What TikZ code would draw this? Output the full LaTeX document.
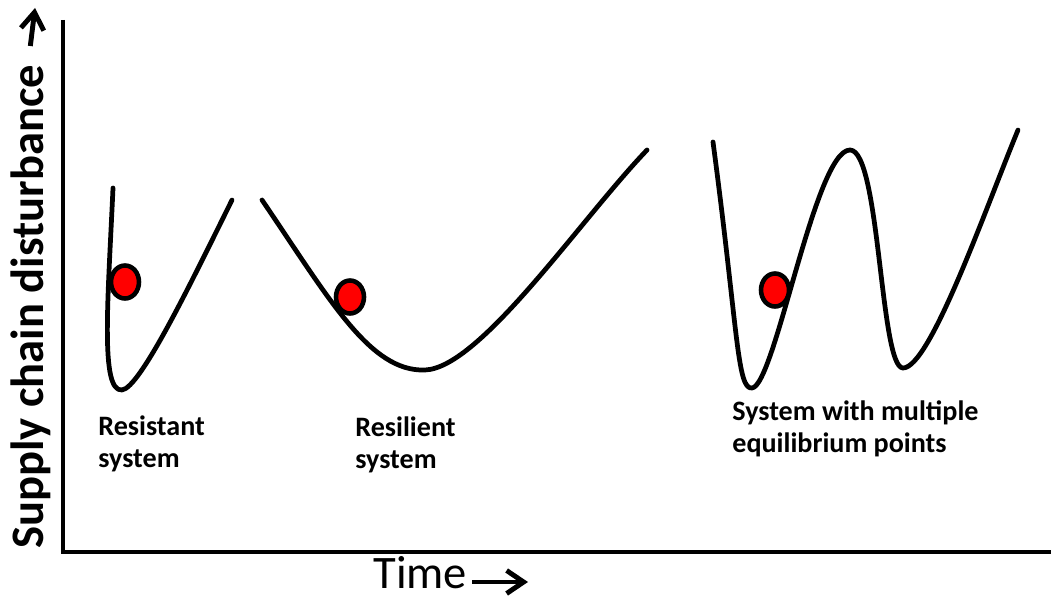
\documentclass[tikz,border=0pt]{standalone}
\usepackage{fontspec}
\setmainfont{Carlito}
\usetikzlibrary{shapes,arrows.meta}

\begin{document}
\begin{tikzpicture}[x=0.02cm,y=-0.02cm]

\tikzstyle{axis} = [line width=2.4pt, black]
\tikzstyle{well} = [line width=2.7pt, black, line cap=round, line join=round]
\tikzstyle{redball} = [draw, ellipse, line width=2.6pt, draw=black, fill=red,
minimum width=0.56cm, minimum height=0.66cm, inner sep=0]
\tikzstyle{caption} = [anchor=base west, align=left, inner sep=0, font=\fontsize{16}{18}\selectfont\bfseries]
\tikzstyle{axislabel} = [inner sep=0, font=\fontsize{26.5}{30}\selectfont]
\tikzstyle{axisarrow} = [line width=2.8pt, -{Straight Barb[length=0.34cm,width=0.46cm]}]

\useasboundingbox (0,0) rectangle (1051,598);

% axes
\coordinate (top) at (63,20);
\coordinate (origin) at (63,552);
\coordinate (right) at (1051,552);
\draw[axis] (top) -- (origin) -- (right);

\node[axislabel, anchor=base west, rotate=90, font=\fontsize{26.5}{30}\selectfont\bfseries] (ylabel) at (43,549) {Supply chain disturbance};
\coordinate (ytip) at (35,8);
\draw[axisarrow] (ylabel.east |- 0,46) -- (ytip);

\node[axislabel, anchor=base west] (xlabel) at (373,588) {Time};
\coordinate (xtip) at (528,582);
\draw[axisarrow] (472,582) -- (xtip);

% resistant system
\draw[well] (113,188) .. controls (108,300) and (100,392) .. (122,390)
  .. controls (140,388) and (190,285) .. (232,200);
\node[redball] (ballA) at (125,282) {};
\node[caption] (resistant) at (98,467) {Resistant\\system};

% resilient system
\draw[well] (262,200) .. controls (330,300) and (370,372) .. (425,370)
  .. controls (480,368) and (580,220) .. (647,150);
\node[redball] (ballB) at (350,297) {};
\node[caption] (resilient) at (355,468) {Resilient\\system};

% multiple equilibria
\draw[well] (713,142) .. controls (738,330) and (737,390) .. (752,388)
  .. controls (775,386) and (815,150) .. (850,150)
  .. controls (880,150) and (880,368) .. (903,368)
  .. controls (930,368) and (985,210) .. (1018,130);
\node[redball] (ballC) at (775,290) {};
\node[caption] (multiple) at (732,452) {System with multiple\\equilibrium points};

\end{tikzpicture}
\end{document}
